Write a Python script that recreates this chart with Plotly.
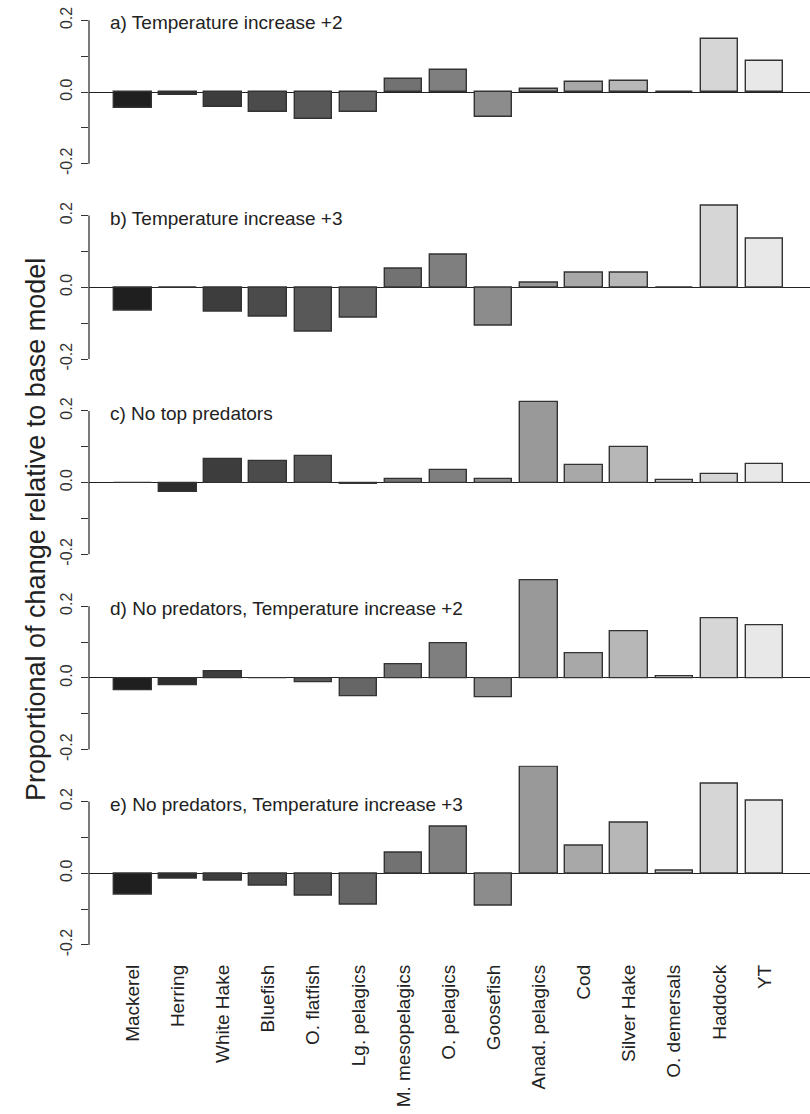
import plotly.graph_objects as go

species = ["Mackerel", "Herring", "White Hake", "Bluefish", "O. flatfish", "Lg. pelagics",
           "M. mesopelagics", "O. pelagics", "Goosefish", "Anad. pelagics", "Cod",
           "Silver Hake", "O. demersals", "Haddock", "YT"]

panel_titles = ["a) Temperature increase +2", "b) Temperature increase +3", "c) No top predators",
                "d) No predators, Temperature increase +2", "e) No predators, Temperature increase +3"]

temp_plus2 = [-0.044, -0.008, -0.043, -0.055, -0.075, -0.055, 0.036, 0.060, -0.070, 0.009,
              0.029, 0.032, 0.0, 0.148, 0.087]
temp_plus3 = [-0.065, 0.0, -0.069, -0.083, -0.125, -0.085, 0.052, 0.090, -0.106, 0.012,
              0.040, 0.041, 0.0, 0.228, 0.136]
no_top_pred = [0.0, -0.025, 0.066, 0.059, 0.074, -0.005, 0.011, 0.035, 0.011, 0.226,
               0.048, 0.100, 0.007, 0.023, 0.051]
no_pred_plus2 = [-0.036, -0.021, 0.019, 0.0, -0.013, -0.051, 0.038, 0.095, -0.055, 0.272,
                 0.069, 0.129, 0.003, 0.167, 0.146]
no_pred_plus3 = [-0.059, -0.015, -0.020, -0.035, -0.063, -0.087, 0.057, 0.129, -0.090, 0.296,
                 0.078, 0.142, 0.006, 0.251, 0.202]

bar_colors = ["#1f1f1f", "#2e2e2e", "#3d3d3d", "#4b4b4b", "#585858", "#666666", "#727272",
              "#7f7f7f", "#8c8c8c", "#999999", "#a8a8a8", "#b7b7b7", "#c6c6c6", "#d6d6d6", "#e8e8e8"]

y_tick_vals = [-0.2, -0.1, 0.0, 0.1, 0.2]
y_tick_text = ["-0.2", "", "0.0", "", "0.2"]
y_title = "Proportional of change relative to base model"

panels = [temp_plus2, temp_plus3, no_top_pred, no_pred_plus2, no_pred_plus3]

W, Hfig = 810, 1114
ML, MB = 89, 164
H = Hfig - MB            # plot area height in px
scale = 358.5            # px per unit
zeros = [92 + 195.3 * k for k in range(5)]

fig = go.Figure()
layout = dict(
    width=W, height=Hfig,
    margin=dict(l=ML, r=0, t=0, b=MB),
    paper_bgcolor="white", plot_bgcolor="white",
    showlegend=False,
    font=dict(family="Liberation Sans, Arial, sans-serif", color="#222"),
    bargap=0,
)
idx = list(range(len(species)))
shapes = []
annotations = []
for k, vals in enumerate(panels):
    z = zeros[k]
    top = max(0.0, z - 0.30 * scale)
    bot = min(H, z + 0.215 * scale)
    hi = (z - top) / scale
    lo = -(bot - z) / scale
    yname = "y" if k == 0 else f"y{k+1}"
    lname = "yaxis" if k == 0 else f"yaxis{k+1}"
    fig.add_trace(go.Bar(
        x=idx, y=vals, xaxis="x", yaxis=yname, width=0.83,
        marker=dict(color=bar_colors, line=dict(color="#333333", width=1.4)),
        hoverinfo="skip",
    ))
    layout[lname] = dict(
        domain=[1 - bot / H, 1 - top / H], range=[lo, hi],
        showgrid=False, showline=False,
        zeroline=True, zerolinecolor="#222", zerolinewidth=1.3,
        ticks="outside", ticklen=7, tickwidth=1.3, tickcolor="#333",
        tickvals=y_tick_vals, ticktext=y_tick_text, tickangle=-90,
        tickfont=dict(size=16, color="#333"), ticklabelstandoff=3,
        fixedrange=True,
    )
    shapes.append(dict(type="line", xref="paper", yref=yname, x0=0, x1=0, y0=-0.2, y1=0.2,
                       line=dict(color="#333", width=1.3)))
    annotations.append(dict(text=panel_titles[k], xref="paper", yref=yname,
                            x=(108 - ML) / (W - ML), y=0.193, xanchor="left", yanchor="middle",
                            showarrow=False, font=dict(size=19, color="#222")))

annotations.append(dict(text=y_title, xref="paper", yref="paper",
                        x=(36 - ML) / (W - ML), y=1 - 530 / H, xanchor="center", yanchor="middle",
                        textangle=-90, showarrow=False, font=dict(size=27, color="#222")))

step = 45.12
xmin = -(132.8 - ML) / step
xmax = xmin + (W - ML) / step
layout["xaxis"] = dict(
    domain=[0, 1], range=[xmin, xmax], anchor="y5",
    tickvals=idx, ticktext=species, tickangle=-90,
    tickfont=dict(size=19, color="#222"), showgrid=False, showline=False, zeroline=False,
    ticks="", ticklabelstandoff=10, fixedrange=True,
)
layout["shapes"] = shapes
layout["annotations"] = annotations
fig.update_layout(**layout)
fig.write_html("out.html")
